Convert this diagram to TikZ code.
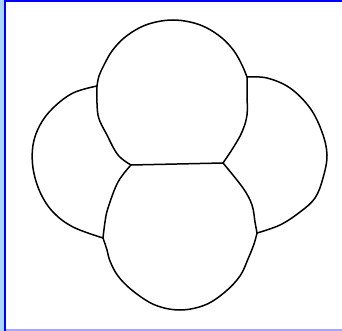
\documentclass[tikz,border=0pt]{standalone}
\usepackage{tikz}
\definecolor{frameblue}{RGB}{0,0,255}
\definecolor{stripblue}{RGB}{170,215,255}
\definecolor{baseblue}{RGB}{165,165,255}
\begin{document}
\begin{tikzpicture}[x=1pt,y=-1pt,
    film/.style={line width=1.5pt,black,line join=round,line cap=round},
    edge/.style={smooth,tension=0.6}]
  \useasboundingbox (0,0) rectangle (342,331);
  % frame
  \fill[stripblue] (0,0) rectangle (4,331);
  \fill[frameblue] (4,0) rectangle (6,331);
  \fill[frameblue] (4,0) rectangle (342,2.5);
  \fill[baseblue] (6,329) rectangle (342,331);
  % junctions
  \coordinate (jl) at (131,165);
  \coordinate (jr) at (223,163);
  \coordinate (tl) at (97,86);
  \coordinate (tr) at (247,77);
  \coordinate (bl) at (103,238);
  \coordinate (br) at (257,233);
  % top bubble
  \draw[film] plot[edge] coordinates {(jl) (118,155) (107,135) (98,115) (tl)};
  \draw[film] plot[edge] coordinates {(tl) (99,76) (104,65) (112,51) (124,38) (140,27.5) (156,22) (173,20) (190,22) (206,27.5) (222,38) (234,51) (242,65) (tr)};
  \draw[film] plot[edge] coordinates {(tr) (247,95) (247,115) (242,132) (233,148) (jr)};
  % shared film
  \draw[film] (jl) -- (jr);
  % bottom bubble
  \draw[film] plot[edge] coordinates {(jl) (118,182) (108,208) (105,222) (bl)};
  \draw[film] plot[edge] coordinates {(bl) (107,250) (110,261) (118,276) (133,291) (155,305) (180,310) (205,305) (225,292) (240,276) (248,259) (254,244) (br)};
  \draw[film] plot[edge] coordinates {(br) (255,222) (252,205) (243,188) (jr)};
  % left lobe
  \draw[film] plot[edge] coordinates {(tl) (73,93) (53,108) (40,125) (33,145) (33,168) (40,192) (53,212) (73,227) (bl)};
  % right lobe
  \draw[film] plot[edge] coordinates {(tr) (267,78) (290,88) (310,108) (322,132) (327,155) (323,178) (315,198) (300,212) (280,225) (br)};
\end{tikzpicture}
\end{document}
